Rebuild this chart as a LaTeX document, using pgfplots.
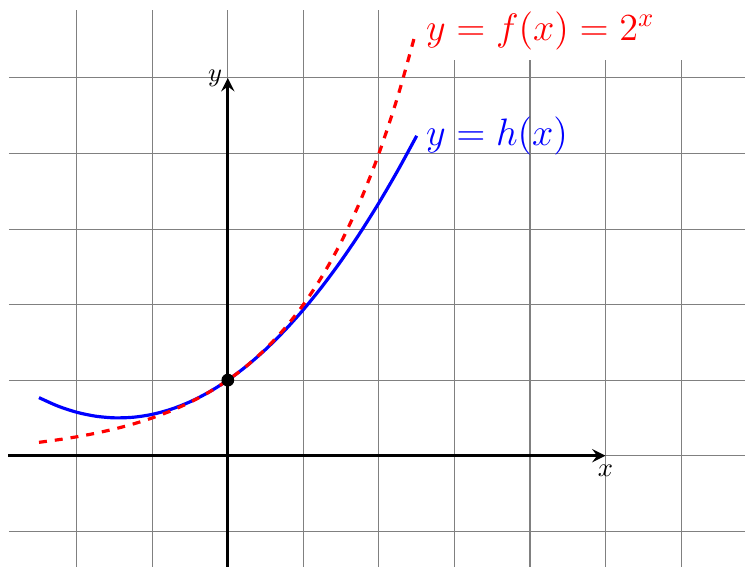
\documentclass[border=0pt]{standalone}
\usepackage{pgfplots}
\pgfplotsset{compat=1.18}
\begin{document}
\begin{tikzpicture}
\begin{axis}[x=1cm,y=1cm,xmin=-3.016,xmax=6.852,ymin=-1.468,ymax=6.032,
  hide axis,clip=false,scale only axis]
\addplot[draw=none] coordinates {(-3.016,-1.468) (6.852,6.032)};
% grid
\pgfplotsinvokeforeach{-2,-1,0,1,2}{\draw[gray,line width=0.4pt] (axis cs:#1,-1.468) -- (axis cs:#1,5.9);}
\pgfplotsinvokeforeach{3,4,5,6}{\draw[gray,line width=0.4pt] (axis cs:#1,-1.468) -- (axis cs:#1,5.24);}
\pgfplotsinvokeforeach{-1,0,1,2,3,4,5}{\draw[gray,line width=0.4pt] (axis cs:-2.9,#1) -- (axis cs:6.852,#1);}
% axes
\addplot[black,line width=1.2pt,-stealth] coordinates {(-2.91,0) (5,0)};
\addplot[black,line width=1.2pt,-stealth] coordinates {(0,-1.468) (0,5)};
\node[below] at (axis cs:5,0) {$x$};
\node[left,inner sep=2pt] at (axis cs:0,5) {$y$};
% h(x)
\addplot[blue,line width=1.2pt,smooth] coordinates {
(-2.5,0.76855) (-2.25,0.65657) (-2.0,0.57462) (-1.75,0.52269) (-1.5,0.50079)
(-1.25,0.50892) (-1.0,0.54708) (-0.75,0.61527) (-0.5,0.71349) (-0.25,0.84172)
(0,1) (0.25,1.18830) (0.5,1.40663) (0.75,1.65499) (1.0,1.93338) (1.25,2.24178)
(1.5,2.58023) (1.75,2.94871) (2.0,3.34720) (2.25,3.77573) (2.5,4.23429)};
% f(x)=2^x
\addplot[red,line width=1.2pt,dashed,smooth] coordinates {
(-2.5,0.17678) (-2.25,0.21022) (-2.0,0.25) (-1.75,0.29730) (-1.5,0.35355)
(-1.25,0.42045) (-1.0,0.5) (-0.75,0.59460) (-0.5,0.70711) (-0.25,0.84090)
(0,1) (0.25,1.18921) (0.5,1.41421) (0.75,1.68179) (1.0,2) (1.25,2.37841)
(1.5,2.82843) (1.75,3.36359) (2.0,4) (2.25,4.75683) (2.47,5.5404)};
\addplot[only marks,mark=*,mark size=2.2pt,black] coordinates {(0,1)};
\node[right,blue,font=\Large] at (axis cs:2.5,4.23) {$y=h(x)$};
\node[right,red,font=\Large] at (axis cs:2.5,5.62) {$y=f(x)=2^x$};
\end{axis}
\end{tikzpicture}
\end{document}
